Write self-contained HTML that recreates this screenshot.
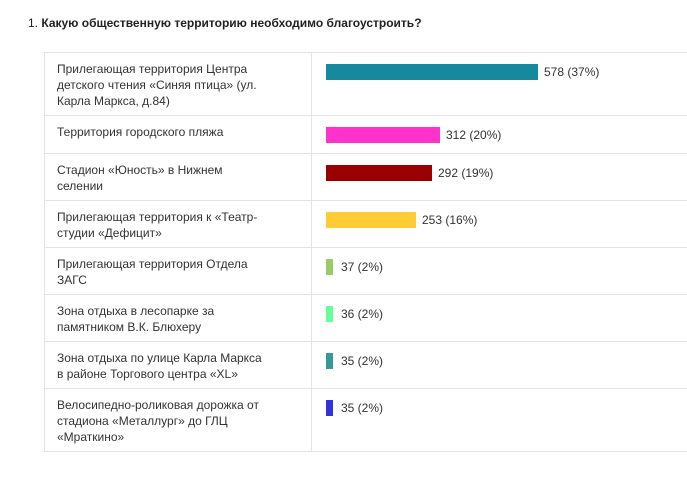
<!DOCTYPE html>
<html><head><meta charset="utf-8"><style>
body{margin:0;width:687px;height:482px;background:#fff;font-family:"Liberation Sans","DejaVu Sans",sans-serif;color:#333;position:relative;overflow:hidden}
.t{position:absolute;left:28px;top:16px;font-size:12px;font-weight:bold;color:#222}
.t span{font-weight:normal}
.row{position:absolute;left:44px;width:660px;border-top:1px solid #e3e3e3;border-left:1px solid #e3e3e3}
.lab{position:absolute;left:12px;top:8px;width:208px;font-size:12px;line-height:16px;color:#333}
.div{position:absolute;left:266px;top:0;bottom:0;border-left:1px solid #e3e3e3}
.bar{position:absolute;left:281px;top:11px;height:16px}
.val{position:absolute;top:11px;font-size:12px;line-height:16px;color:#333}
.end{position:absolute;left:44px;width:660px;top:451px;border-top:1px solid #e3e3e3}
</style></head><body>
<div class="t"><span>1.</span> Какую общественную территорию необходимо благоустроить?</div>

<div class="row" style="top:52px;height:63px"><div class="lab">Прилегающая территория Центра детского чтения «Синяя птица» (ул. Карла Маркса, д.84)</div><div class="div"></div><div class="bar" style="width:212px;background:#17899f"></div><div class="val" style="left:499px">578 (37%)</div></div>
<div class="row" style="top:115px;height:38px"><div class="lab">Территория городского пляжа</div><div class="div"></div><div class="bar" style="width:114px;background:#ff33cc"></div><div class="val" style="left:401px">312 (20%)</div></div>
<div class="row" style="top:153px;height:47px"><div class="lab">Стадион «Юность» в Нижнем селении</div><div class="div"></div><div class="bar" style="width:106px;background:#990000"></div><div class="val" style="left:393px">292 (19%)</div></div>
<div class="row" style="top:200px;height:47px"><div class="lab">Прилегающая территория к «Театр-студии «Дефицит»</div><div class="div"></div><div class="bar" style="width:90px;background:#ffcc33"></div><div class="val" style="left:377px">253 (16%)</div></div>
<div class="row" style="top:247px;height:47px"><div class="lab">Прилегающая территория Отдела ЗАГС</div><div class="div"></div><div class="bar" style="width:7px;background:#99cc66"></div><div class="val" style="left:296px">37 (2%)</div></div>
<div class="row" style="top:294px;height:47px"><div class="lab">Зона отдыха в лесопарке за памятником В.К. Блюхеру</div><div class="div"></div><div class="bar" style="width:7px;background:#66ff99"></div><div class="val" style="left:296px">36 (2%)</div></div>
<div class="row" style="top:341px;height:47px"><div class="lab">Зона отдыха по улице Карла Маркса в районе Торгового центра «XL»</div><div class="div"></div><div class="bar" style="width:7px;background:#339999"></div><div class="val" style="left:296px">35 (2%)</div></div>
<div class="row" style="top:388px;height:63px"><div class="lab">Велосипедно-роликовая дорожка от стадиона «Металлург» до ГЛЦ «Мраткино»</div><div class="div"></div><div class="bar" style="width:7px;background:#3333dd"></div><div class="val" style="left:296px">35 (2%)</div></div>
<div class="end"></div>
</body></html>
